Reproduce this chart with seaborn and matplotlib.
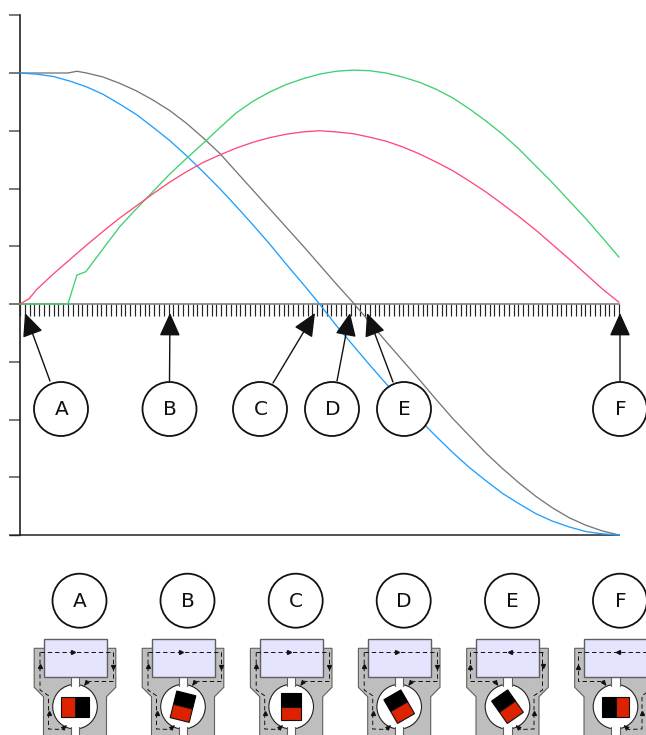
import numpy as np
import pandas as pd
import matplotlib
matplotlib.use("Agg")
import matplotlib.pyplot as plt
from matplotlib.patches import Circle, Polygon, Rectangle
import seaborn as sns

# ---- data ----
blue_x = [0, 5, 10, 15, 20, 25, 30, 35, 40, 45, 50, 55, 60, 65, 70, 75, 80, 85, 90, 95, 100, 105, 110, 115, 120, 125, 130, 135, 140, 145, 150, 155, 160, 165, 170, 175, 180]
blue_y = [4.00, 3.98, 3.94, 3.86, 3.76, 3.63, 3.46, 3.28, 3.06, 2.83, 2.57, 2.29, 2.00, 1.69, 1.37, 1.04, 0.69, 0.35, 0.0, -0.37, -0.71, -1.05, -1.38, -1.69, -2.00, -2.29, -2.57, -2.83, -3.06, -3.28, -3.46, -3.63, -3.76, -3.86, -3.94, -3.98, -4.00]
gray_x = [0, 5, 10, 14.4, 17.1, 20, 25, 30, 35, 40, 45, 50, 55, 60, 65, 70, 75, 80, 85, 90, 95, 100, 105, 110, 115, 120, 125, 130, 135, 140, 145, 150, 155, 160, 165, 170, 175, 180]
gray_y = [4.0, 4.0, 4.0, 4.0, 4.03, 4.0, 3.93, 3.82, 3.69, 3.53, 3.35, 3.13, 2.88, 2.61, 2.29, 1.97, 1.65, 1.33, 1.01, 0.68, 0.35, 0.03, -0.31, -0.65, -0.98, -1.31, -1.65, -1.98, -2.28, -2.58, -2.85, -3.10, -3.33, -3.53, -3.70, -3.83, -3.93, -4.0]
green_x = [0, 14.4, 17.1, 19.8, 25, 30, 35, 40, 45, 50, 55, 60, 65, 70, 75, 80, 85, 90, 95, 100, 105, 110, 115, 120, 125, 130, 135, 140, 145, 150, 155, 160, 165, 170, 175, 180]
green_y = [0, 0, 0.50, 0.56, 0.96, 1.34, 1.65, 1.95, 2.25, 2.52, 2.78, 3.05, 3.31, 3.51, 3.67, 3.80, 3.90, 3.98, 4.03, 4.05, 4.04, 4.00, 3.93, 3.84, 3.72, 3.57, 3.38, 3.17, 2.94, 2.68, 2.39, 2.10, 1.79, 1.48, 1.15, 0.81]
red_x = [0, 2.7, 5, 10, 15, 20, 25, 30, 35, 40, 45, 50, 55, 60, 65, 70, 75, 80, 85, 90, 95, 100, 105, 110, 115, 120, 125, 130, 135, 140, 145, 150, 155, 160, 165, 170, 175, 180]
red_y = [0, 0.09, 0.25, 0.52, 0.77, 1.02, 1.26, 1.49, 1.70, 1.91, 2.11, 2.29, 2.45, 2.58, 2.70, 2.80, 2.88, 2.94, 2.98, 3.0, 2.98, 2.95, 2.89, 2.82, 2.72, 2.60, 2.46, 2.31, 2.13, 1.94, 1.73, 1.51, 1.28, 1.03, 0.78, 0.52, 0.26, 0.03]
series = [("gray", gray_x, gray_y, "#777777"), ("blue", blue_x, blue_y, "#1f9fff"),
          ("green", green_x, green_y, "#3fd070"), ("red", red_x, red_y, "#ff4a78")]
y_ticks = [-4, -3, -2, -1, 0, 1, 2, 3, 4, 5]
n_x_ticks = 126

top_labels = ["A", "B", "C", "D", "E", "F"]
top_circle_x = [61, 169.5, 260, 332, 404, 620]
arrow_from = [(50, 381), (169.5, 381), (273, 383), (337, 381), (393, 382), (620, 381)]
arrow_tip = [(25, 313), (170, 313), (315, 313), (350, 313), (367, 313), (620, 313)]

diagram_x = [79.5, 187.5, 295.7, 403.7, 512, 620]
rotor_angle = [0, 76, 90, 120, 125, 180]
mirror_flow = [False, False, False, False, True, True]

# ---- figure ----
sns.set_theme(style="white")
plt.rcParams["font.family"] = ["DejaVu Sans"]
W, H = 646, 735
fig = plt.figure(figsize=(W / 100, H / 100), dpi=100, facecolor="white")
ax = fig.add_axes([20 / W, (H - 535) / H, 599 / W, (535 - 15.25) / H])
for name, xs, ys, col in series:
    df = pd.DataFrame({"x": xs, "y": ys})
    sns.lineplot(data=df, x="x", y="y", ax=ax, color=col, lw=0.95, estimator=None,
                 sort=False, zorder=3, clip_on=False)
ax.set_xlim(0, 180)
ax.set_ylim(-4, 5)
ax.set_xlabel("")
ax.set_ylabel("")
ax.set_yticks(y_ticks)
ax.set_yticklabels([])
ax.tick_params(axis="y", left=True, length=8, width=1.1, color="#555555", direction="out")
ax.xaxis.tick_top()
ax.set_xticks(np.linspace(0, 180, n_x_ticks))
ax.set_xticklabels([])
ax.tick_params(axis="x", top=True, bottom=False, labeltop=False, direction="in",
               length=8.6, width=0.85, color="#222222")
ax.spines["right"].set_visible(False)
ax.spines["top"].set_position(("data", 0))
ax.spines["top"].set_color("#777777")
ax.spines["top"].set_linewidth(1.1)
ax.spines["left"].set_color("#222222")
ax.spines["left"].set_linewidth(1.2)
ax.spines["bottom"].set_color("#222222")
ax.spines["bottom"].set_linewidth(1.1)
ax.patch.set_alpha(0)

# ---- overlay in pixel coordinates ----
ov = fig.add_axes([0, 0, 1, 1], zorder=5)
ov.set_xlim(0, W)
ov.set_ylim(H, 0)
ov.axis("off")
ov.patch.set_alpha(0)
ov.plot([9, 20], [535, 535], color="#222222", lw=1.0, solid_capstyle="butt")


def letter_circle(x, y, s):
    ov.add_patch(Circle((x, y), 27, fc="white", ec="#111111", lw=1.3, zorder=6))
    ov.text(x + 0.5, y + 0.5, s, ha="center", va="center", fontsize=14.5, color="#111111", zorder=7)


for start, tip in zip(arrow_from, arrow_tip):
    ov.annotate("", xy=tip, xytext=start,
                arrowprops=dict(arrowstyle="-|>,head_length=1.0,head_width=0.45", mutation_scale=14.4,
                                shrinkA=0, shrinkB=0, color="#111111", lw=1.0), zorder=5)
for x, s in zip(top_circle_x, top_labels):
    letter_circle(x, 409, s)


def diagram(cx, label, angle, mirror):
    letter_circle(cx, 600.7, label)
    b = cx - 4.5
    EDGE = "#5f5f5f"
    body = [(b - 40.8, 648.3), (b + 40.8, 648.3), (b + 40.8, 687.3), (b + 31.5, 696.7), (b + 31.5, 740),
            (b - 31.5, 740), (b - 31.5, 696.7), (b - 40.8, 687.3)]
    ov.add_patch(Polygon(body, closed=True, fc="#bebebe", ec=EDGE, lw=0.8, zorder=2))
    cy = 706.7
    ov.add_patch(Circle((b, cy), 22.3, fc="white", ec="#222222", lw=0.8, zorder=2.2))
    ov.add_patch(Rectangle((b - 4.2, 676), 8.4, 70, fc="white", ec="none", zorder=2.3))
    for sx in (-4.2, 4.2):
        for y0, y1 in ((677, 686), (727, 740)):
            ov.plot([b + sx, b + sx], [y0, y1], color=EDGE, lw=0.8, zorder=2.4)
    ov.add_patch(Rectangle((b - 31.5, 639), 63, 38, fc="#e4e4fe", ec=EDGE, lw=1.0, zorder=3))

    # rotor
    a = np.radians(angle)
    u = np.array([-np.cos(a), np.sin(a)])
    v = np.array([-u[1], u[0]])
    c = np.array([b, cy])
    L, Wd = 13.7, 9.8
    red = [c + v * Wd, c - v * Wd, c + u * L - v * Wd, c + u * L + v * Wd]
    blk = [c + v * Wd, c - v * Wd, c - u * L - v * Wd, c - u * L + v * Wd]
    ov.add_patch(Polygon(blk, closed=True, fc="#000000", ec="#000000", lw=0.8, zorder=4))
    ov.add_patch(Polygon(red, closed=True, fc="#dd2200", ec="#111111", lw=0.8, zorder=4))

    # flow paths
    m = -1 if mirror else 1
    X = lambda dx: b + m * dx
    kw = dict(color="#111111", lw=0.7, ls=(0, (4.5, 3)), zorder=4.5)
    ov.plot([X(-35), X(38), X(38), X(13)], [652.3, 652.3, 681, 681], **kw)
    ov.plot([X(-35), X(-35), X(-26.5), X(-26.5), X(-13)], [652.3, 690, 695.7, 729, 729.5], **kw)
    mk = dict(color="#111111", ls="none", ms=2.8, zorder=5)
    ov.plot(X(-2), 652.3, marker=">" if not mirror else "<", **mk)
    ov.plot(X(-35), 666, marker="^" if not mirror else "v", **mk)
    ov.plot(X(-26.5), 713, marker="^", **mk)
    ov.plot(X(37.5), 667, marker="v" if not mirror else "^", **mk)
    style = "-|>,head_length=0.8,head_width=0.35"
    ov.annotate("", xy=(X(9), 686), xytext=(X(13), 681),
                arrowprops=dict(arrowstyle=style, mutation_scale=4, color="#111111", lw=0.7, shrinkA=0, shrinkB=0),
                zorder=5)
    ov.annotate("", xy=(X(-8), 725), xytext=(X(-13), 729.5),
                arrowprops=dict(arrowstyle=style, mutation_scale=4, color="#111111", lw=0.7, shrinkA=0, shrinkB=0),
                zorder=5)


for cx, s, ang, mir in zip(diagram_x, top_labels, rotor_angle, mirror_flow):
    diagram(cx, s, ang, mir)

fig.savefig("out.png", dpi=100)
